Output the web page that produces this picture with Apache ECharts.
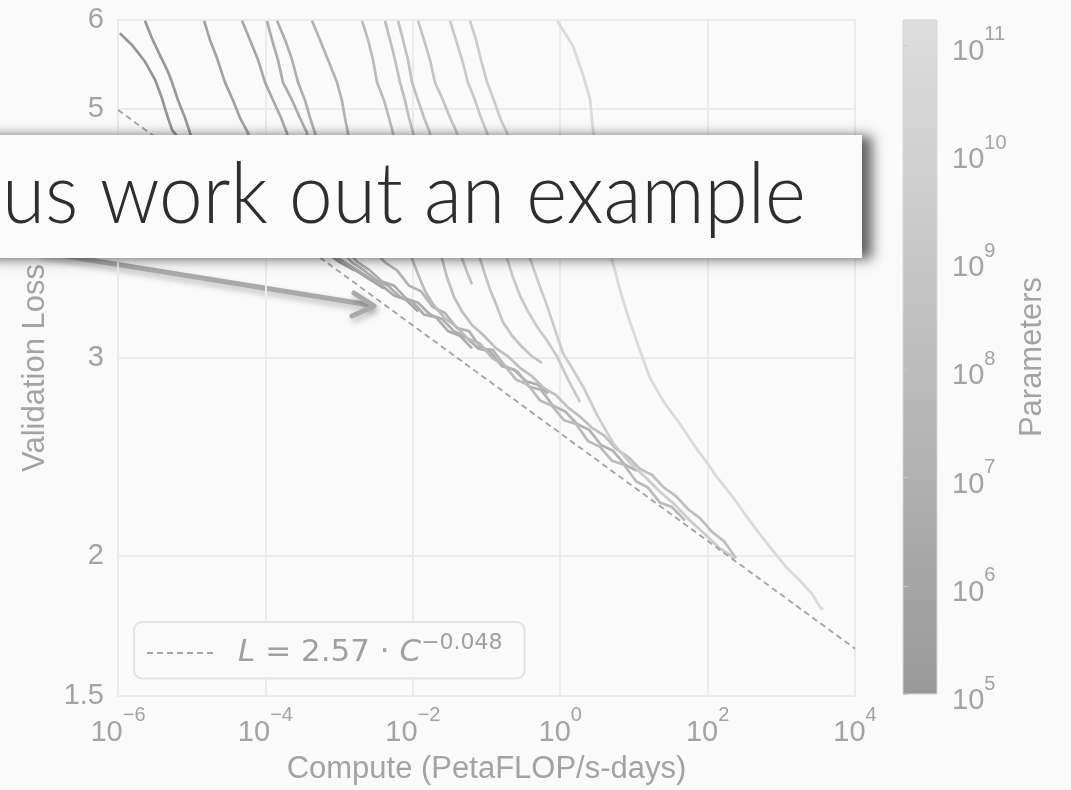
<!DOCTYPE html>
<html>
<head>
<meta charset="utf-8">
<script src="https://cdn.jsdelivr.net/npm/echarts@6.0.0/dist/echarts.min.js"></script>
<style>
  html, body { margin: 0; padding: 0; background: #fafafa; }
  #chart { width: 1071px; height: 790px; }
</style>
</head>
<body>
<div id="chart"></div>
<script>
// ---- data ----
const xTicks = [1e-6, 1e-4, 1e-2, 1, 1e2, 1e4];
const yTicks = [1.5, 2, 3, 4, 5, 6];
const paramTicks = [1e5, 1e6, 1e7, 1e8, 1e9, 1e10, 1e11];
const paramRange = [1e5, 1.7e11];
const runParams = [2e5, 4.5e5, 2.8e6, 9.3e6, 2.0e7, 2.8e7, 8.3e7, 4.0e8, 8.1e8, 1.2e9, 2.3e9, 6.2e9, 1.15e10, 1.75e11];
const fitLine = [[1e-6, 4.99], [1e4, 1.653]];
const fitLabel = 'L = 2.57 · C^−0.048';
const calloutText = 'us work out an example';

const run1 = [[1.06e-6,5.84],[1.55e-6,5.70],[2.32e-6,5.51],[3.18e-6,5.31],[3.95e-6,5.11],[4.62e-6,4.94],[5.41e-6,4.79],[6.93e-6,4.69],[1.30e-5,4.58],[3.31e-5,4.39],[1.15e-4,4.11],[4.03e-4,3.84]];
const run2 = [[2.32e-6,5.99],[2.89e-6,5.78],[3.72e-6,5.58],[4.62e-6,5.42],[5.41e-6,5.28],[6.52e-6,5.09],[8.11e-6,4.91],[9.48e-6,4.76],[1.14e-5,4.60],[1.51e-5,4.46],[2.83e-5,4.32],[7.23e-5,4.15],[2.16e-4,3.94],[5.51e-4,3.76],[1.03e-3,3.65],[1.64e-3,3.59]];
const run3 = [[1.47e-5,5.99],[1.77e-5,5.76],[2.14e-5,5.58],[2.83e-5,5.28],[3.63e-5,5.09],[4.52e-5,4.91],[5.81e-5,4.76],[6.79e-5,4.50],[7.94e-5,4.28],[1.08e-4,4.11],[2.03e-4,3.97],[4.71e-4,3.81],[1.03e-3,3.67],[2.05e-3,3.56],[4.06e-3,3.46]];
const run4 = [[4.82e-5,5.99],[6.18e-5,5.76],[7.94e-5,5.53],[9.89e-5,5.28],[1.27e-4,5.09],[1.63e-4,4.91],[1.96e-4,4.76],[2.30e-4,4.46],[2.69e-4,4.19],[3.44e-4,3.98],[5.18e-4,3.82],[8.02e-4,3.71],[1.20e-3,3.65],[1.80e-3,3.59],[2.62e-3,3.53],[3.82e-3,3.48],[5.56e-3,3.41],[8.09e-3,3.38],[1.18e-2,3.30]];
const run5 = [[1.05e-4,5.99],[1.23e-4,5.76],[1.48e-4,5.53],[1.73e-4,5.28],[2.30e-4,5.09],[2.94e-4,4.91],[3.66e-4,4.76],[4.29e-4,4.46],[5.18e-4,4.15],[6.64e-4,3.92],[9.66e-4,3.76],[1.50e-3,3.65],[2.18e-3,3.59],[3.17e-3,3.52],[4.60e-3,3.48],[6.70e-3,3.40],[9.75e-3,3.37],[1.42e-2,3.28],[2.07e-2,3.26],[3.01e-2,3.17],[4.37e-2,3.14],[6.35e-2,3.06]];
const run6 = [[1.44e-4,5.99],[1.85e-4,5.76],[2.30e-4,5.53],[2.77e-4,5.28],[3.44e-4,5.09],[4.03e-4,4.91],[4.71e-4,4.76],[5.51e-4,4.41],[6.64e-4,4.11],[8.53e-4,3.89],[1.24e-3,3.74],[1.80e-3,3.65],[2.62e-3,3.59],[3.82e-3,3.51],[5.56e-3,3.48],[8.09e-3,3.39],[1.18e-2,3.36],[1.71e-2,3.28],[2.49e-2,3.25],[3.62e-2,3.17],[5.27e-2,3.13],[7.67e-2,3.06],[0.112,3.04],[0.162,2.95],[0.236,2.93],[0.344,2.86],[0.500,2.84],[0.682,2.79]];
const run7 = [[4.29e-4,5.99],[5.51e-4,5.76],[7.06e-4,5.53],[9.38e-4,5.28],[1.09e-3,5.09],[1.20e-3,4.91],[1.32e-3,4.76],[1.50e-3,4.41],[1.75e-3,4.11],[2.18e-3,3.89],[2.98e-3,3.74],[4.20e-3,3.65],[6.11e-3,3.59],[8.87e-3,3.48],[1.29e-2,3.44],[1.88e-2,3.33],[2.74e-2,3.29],[3.98e-2,3.19],[5.79e-2,3.17],[8.41e-2,3.06],[0.122,3.05],[0.178,2.95],[0.259,2.92],[0.378,2.83],[0.548,2.81],[0.799,2.72],[1.16,2.69],[1.69,2.62],[2.46,2.59],[3.58,2.51],[5.21,2.48],[7.57,2.41],[11.0,2.38]];
const run8 = [[2.05e-3,5.99],[2.47e-3,5.76],[2.88e-3,5.53],[3.27e-3,5.28],[4.06e-3,5.09],[4.75e-3,4.91],[5.38e-3,4.76],[6.30e-3,4.41],[7.36e-3,4.07],[8.61e-3,3.82],[9.75e-3,3.68],[1.18e-2,3.56],[1.47e-2,3.44],[1.88e-2,3.35],[2.65e-2,3.26],[3.85e-2,3.20],[5.61e-2,3.12],[8.17e-2,3.09],[0.119,3.00],[0.173,2.96],[0.251,2.87],[0.366,2.84],[0.532,2.75],[0.774,2.72],[1.13,2.64],[1.64,2.62],[2.38,2.53],[3.47,2.50],[5.05,2.43],[7.34,2.41],[10.7,2.33],[15.5,2.30],[22.6,2.23],[32.9,2.21],[49.4,2.15]];
const run9 = [[4.20e-3,5.99],[4.91e-3,5.76],[5.74e-3,5.53],[6.70e-3,5.28],[7.83e-3,5.09],[8.87e-3,4.91],[1.01e-2,4.76],[1.25e-2,4.41],[1.61e-2,4.11],[2.07e-2,3.86],[2.49e-2,3.68],[2.91e-2,3.54],[3.62e-2,3.40],[4.66e-2,3.30],[6.35e-2,3.21],[9.25e-2,3.14],[0.135,3.06],[0.196,3.01],[0.285,2.94],[0.414,2.89],[0.603,2.82],[0.877,2.78],[1.28,2.71],[1.86,2.66],[2.70,2.60],[3.93,2.56],[5.72,2.49],[8.32,2.45],[12.1,2.39],[17.6,2.36],[25.6,2.30],[37.3,2.26],[54.2,2.20],[78.9,2.16],[115,2.10],[167,2.06],[243,1.99]];
const run10 = [[6.30e-3,5.99],[7.36e-3,5.76],[8.61e-3,5.53],[9.75e-3,5.28],[1.18e-2,5.09],[1.42e-2,4.91],[1.71e-2,4.76],[2.07e-2,4.41],[2.57e-2,4.11],[3.40e-2,3.86],[4.66e-2,3.68],[5.43e-2,3.58],[6.35e-2,3.49]];
const run11 = [[1.18e-2,5.99],[1.42e-2,5.76],[1.71e-2,5.53],[2.00e-2,5.28],[2.57e-2,5.09],[3.20e-2,4.91],[3.98e-2,4.76],[4.66e-2,4.41],[5.61e-2,4.07],[6.76e-2,3.82],[8.17e-2,3.68],[9.55e-2,3.56],[0.112,3.45],[0.135,3.35],[0.167,3.23],[0.222,3.14],[0.303,3.07],[0.414,3.01],[0.566,2.97]];
const run12 = [[3.20e-2,5.99],[3.85e-2,5.76],[4.66e-2,5.53],[5.61e-2,5.28],[6.98e-2,5.09],[8.41e-2,4.91],[0.102,4.76],[0.119,4.41],[0.143,4.07],[0.167,3.82],[0.190,3.68],[0.229,3.54],[0.285,3.41],[0.366,3.30],[0.484,3.20],[0.662,3.11],[0.905,3.01],[1.28,2.87],[1.86,2.74]];
const run13 = [[5.97e-2,5.99],[7.21e-2,5.76],[8.41e-2,5.53],[0.102,5.28],[0.126,5.09],[0.152,4.91],[0.190,4.76],[0.229,4.41],[0.276,4.07],[0.333,3.82],[0.389,3.68],[0.500,3.51],[0.662,3.34],[0.850,3.18],[1.09,3.03],[1.49,2.93],[2.04,2.83],[3.16,2.67],[5.21,2.52],[8.85,2.42],[14.2,2.35],[22.6,2.28],[36.1,2.22],[57.7,2.15],[92.2,2.09],[147,2.03],[235,1.99]];
const run14 = [[0.905,5.99],[1.49,5.69],[2.04,5.36],[2.54,5.10],[2.79,4.79],[3.26,4.41],[3.93,4.07],[4.59,3.82],[5.05,3.67],[6.48,3.45],[8.06,3.29],[11.4,3.08],[16.5,2.88],[25.6,2.74],[42.2,2.62],[65.4,2.51],[98.2,2.42],[134,2.35],[183,2.29],[251,2.23],[302,2.19],[483,2.10],[772,2.02],[1195,1.95],[1794,1.90],[2610,1.85],[3350,1.80],[3680,1.79]];

const runs = [run1, run2, run3, run4, run5, run6, run7, run8, run9, run10, run11, run12, run13, run14];

// ---- styling ----
const FONT = '"Liberation Sans", Arial, sans-serif';
const TXT = '#a3a3a3';
const GRID = '#ebebeb';

function grayFor(n) {
  const t = (Math.log10(n) - Math.log10(paramRange[0])) / (Math.log10(paramRange[1]) - Math.log10(paramRange[0]));
  const g = Math.round(145 + t * 73);
  return 'rgb(' + g + ',' + g + ',' + g + ')';
}
function powLabel(v) {
  const e = Math.round(Math.log10(v));
  return '{b|10}{s|' + String(e).replace('-', '\u2212') + '}';
}
const supRich = {
  b: { fontSize: 29, fontFamily: FONT, color: TXT, padding: [14, 0, 0, 0] },
  s: { fontSize: 20, fontFamily: FONT, color: TXT, padding: [0, 0, 20, 0] }
};

const series = runs.map((d, i) => ({
  name: 'run' + (i + 1),
  type: 'line',
  xAxisIndex: 0, yAxisIndex: 0,
  data: d,
  symbol: 'none', showSymbol: false, silent: true,
  lineStyle: { width: i === 13 ? 2.8 : 2.7, color: grayFor(runParams[i]) },
  z: 2
}));
series.push({
  name: 'fit',
  type: 'line',
  xAxisIndex: 0, yAxisIndex: 0,
  data: fitLine,
  symbol: 'none', showSymbol: false, silent: true,
  itemStyle: { color: '#adadad' },
  lineStyle: { width: 1.9, color: '#a6a6a6', type: [6, 4] },
  z: 3
});

const chart = echarts.init(document.getElementById('chart'), null, { renderer: 'canvas' });
chart.setOption({
  animation: false,
  backgroundColor: '#fafafa',
  textStyle: { fontFamily: FONT },
  grid: [
    { left: 118, top: 20, width: 737, height: 676, show: true, backgroundColor: '#fafafa',
      borderColor: '#e6e6e6', borderWidth: 2, outerBoundsMode: 'none', containLabel: false },
    { left: 903, top: 20, width: 34, height: 674, show: true,
      backgroundColor: { type: 'linear', x: 0, y: 0, x2: 0, y2: 1,
        colorStops: [{ offset: 0, color: '#dedede' }, { offset: 0.5, color: '#bdbdbd' }, { offset: 1, color: '#999999' }] },
      borderColor: '#d6d6d6', borderWidth: 1, outerBoundsMode: 'none', containLabel: false }
  ],
  xAxis: [
    { gridIndex: 0, type: 'log', logBase: 10, min: 1e-6, max: 1e4,
      axisLine: { show: false }, axisTick: { show: false, customValues: xTicks },
      axisLabel: { customValues: xTicks, margin: 8, formatter: powLabel, rich: supRich, color: TXT },
      splitLine: { show: true, lineStyle: { color: GRID, width: 2 } },
      name: 'Compute (PetaFLOP/s-days)', nameLocation: 'middle', nameGap: 58,
      nameTextStyle: { fontSize: 31, color: TXT, fontFamily: FONT } },
    { gridIndex: 1, type: 'value', min: 0, max: 1, show: false }
  ],
  yAxis: [
    { gridIndex: 0, type: 'log', logBase: 10, min: 1.5, max: 6,
      axisLine: { show: false }, axisTick: { show: false, customValues: yTicks },
      axisLabel: { customValues: yTicks, margin: 14, fontSize: 29, color: TXT, fontFamily: FONT,
        formatter: v => String(+v.toFixed(2)) },
      splitLine: { show: true, lineStyle: { color: GRID, width: 2 } },
      name: 'Validation Loss', nameLocation: 'middle', nameGap: 67, nameRotate: 90,
      nameTextStyle: { fontSize: 31, color: TXT, fontFamily: FONT, padding: [0, 20, 0, 0] } },
    { gridIndex: 1, type: 'log', logBase: 10, min: paramRange[0], max: paramRange[1], position: 'right',
      axisLine: { show: false },
      axisTick: { show: true, length: 5, customValues: paramTicks, lineStyle: { color: '#c9c9c9', width: 1 } },
      axisLabel: { customValues: paramTicks, margin: 15, formatter: powLabel, rich: supRich, color: TXT },
      splitLine: { show: false },
      name: 'Parameters', nameLocation: 'middle', nameGap: 80, nameRotate: 90,
      nameTextStyle: { fontSize: 31, color: TXT, fontFamily: FONT } }
  ],
  legend: {
    data: ['fit'], left: 134, top: 622, selectedMode: false,
    itemWidth: 68, itemHeight: 14, padding: [10, 22, 10, 12],
    itemStyle: { opacity: 0 },
    backgroundColor: '#fafafa', borderColor: '#e3e3e3', borderWidth: 2, borderRadius: 8,
    formatter: () => {
      const [main, sup] = fitLabel.split('^');
      return '{sp| }' + main.replace('L', '{i|L}').replace('C', '{i|C}') + '{s|' + sup + '}';
    },
    textStyle: { fontFamily: '"DejaVu Sans", sans-serif', fontSize: 31, color: '#a0a0a0', lineHeight: 31,
      rich: {
        sp: { width: 18 },
        i: { fontStyle: 'italic', fontSize: 31, fontFamily: '"DejaVu Sans", sans-serif', color: '#a0a0a0' },
        s: { fontSize: 22, fontFamily: '"DejaVu Sans", sans-serif', color: '#a0a0a0', padding: [0, 0, 20, 0] }
      } }
  },
  series: series,
  graphic: [
    { type: 'group', z: 100, children: [
      { type: 'line', shape: { x1: 40, y1: 252, x2: 370, y2: 305 },
        style: { stroke: '#a9a9a9', lineWidth: 5, lineCap: 'round',
          shadowBlur: 6, shadowColor: 'rgba(0,0,0,0.25)', shadowOffsetX: 2, shadowOffsetY: 4 } },
      { type: 'polyline', shape: { points: [[354, 293], [374, 306], [352, 316]] },
        style: { stroke: '#a9a9a9', lineWidth: 5, fill: null, lineCap: 'round', lineJoin: 'round',
          shadowBlur: 6, shadowColor: 'rgba(0,0,0,0.25)', shadowOffsetX: 2, shadowOffsetY: 4 } }
    ] },
    { type: 'rect', z: 101, shape: { x: -20, y: 135, width: 882, height: 123 },
      style: { fill: '#fbfbfb', shadowBlur: 12, shadowColor: 'rgba(0,0,0,0.62)', shadowOffsetX: 10, shadowOffsetY: 1 } },
    { type: 'text', z: 102, x: 2, y: 196, scaleX: 0.922,
      style: { text: calloutText, fontSize: 85, fontWeight: 300, fontFamily: 'Lato, Roboto, sans-serif',
        fill: '#2e2e2e', align: 'left', verticalAlign: 'middle' } }
  ]
});
</script>
</body>
</html>
